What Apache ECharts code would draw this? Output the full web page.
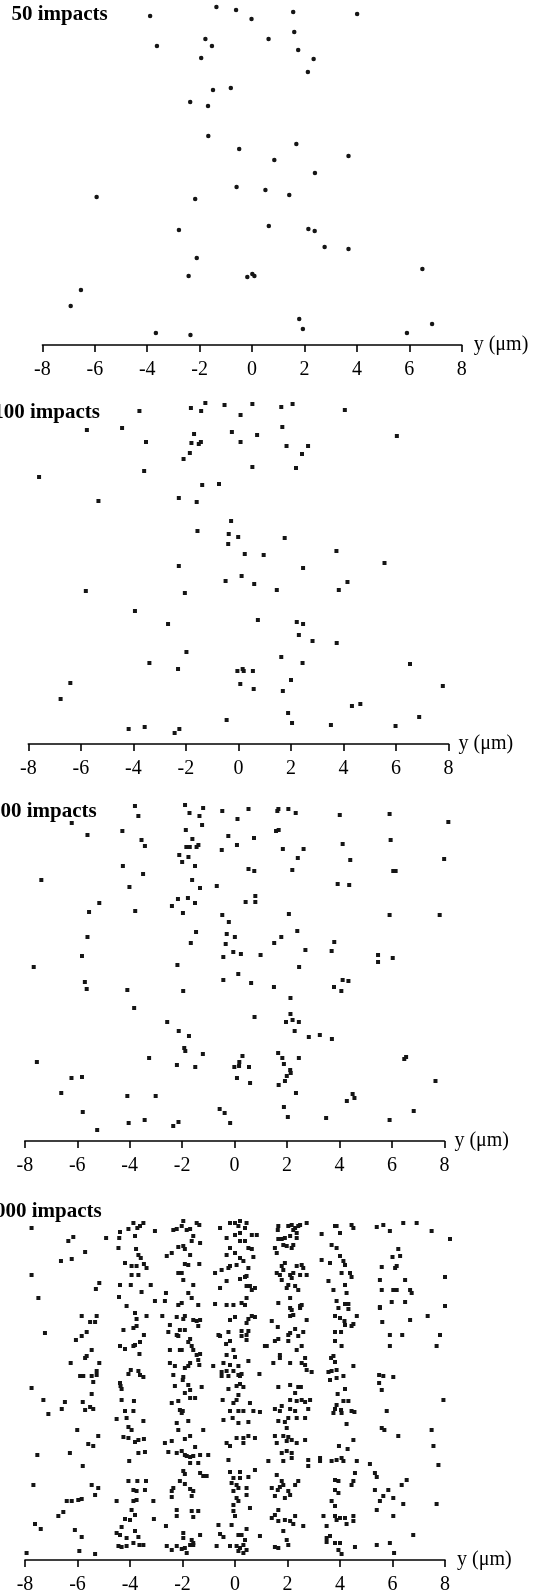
<!DOCTYPE html>
<html>
<head>
<meta charset="utf-8">
<script src="https://cdn.jsdelivr.net/npm/echarts@6/dist/echarts.min.js"></script>
<style>
  html, body { margin: 0; padding: 0; background: #fff; }
  #chart { width: 541px; height: 1596px; }
</style>
</head>
<body>
<div id="chart"></div>
<script>
// impact positions: [y in µm, height above the axis (arbitrary units)]
const axisTicks = [-8, -6, -4, -2, 0, 2, 4, 6, 8]
const axisName = 'y (μm)'
const panelTitles = ['50 impacts', '100 impacts', '200 impacts', '1000 impacts']

const impacts50 = [[-3.89,329],[-1.36,338],[-0.61,335],[-0.02,326],[1.57,333],[4.01,331],[1.61,313],[-3.63,299],[-1.78,306],[-1.53,299],[0.63,306],[1.76,295],[-1.94,287],[2.35,286],[2.13,273],[-1.49,255],[-0.81,257],[-2.36,243],[-1.68,239],[-1.67,209],[1.69,201],[-0.49,196],[0.85,185],[3.68,189],[2.40,172],[-5.93,148],[-2.17,146],[-0.59,158],[0.51,155],[1.42,150],[-2.79,115],[0.64,119],[2.15,116],[2.39,114],[2.77,98],[3.68,96],[-2.11,87],[-2.42,69],[-0.18,68],[0.01,71],[0.09,69],[6.50,76],[-6.53,55],[-6.92,39],[1.80,26],[1.94,16],[-3.67,12],[-2.35,10],[5.91,12],[6.87,21]]

const impacts100 = [[-1.26,341],[-1.81,336],[-1.42,333],[-0.53,339],[0.53,340],[0.08,329],[1.63,337],[2.06,340],[4.05,334],[-3.77,333],[-5.77,314],[-4.43,316],[-1.69,310],[-0.25,312],[0.71,309],[1.67,317],[6.03,308],[-3.52,302],[-1.79,301],[-1.51,300],[-1.43,302],[0.08,302],[1.83,298],[2.65,298],[-1.85,291],[-2.09,285],[2.42,290],[0.53,277],[2.19,276],[-7.59,267],[-3.59,273],[-1.38,259],[-0.74,260],[-5.33,243],[-2.27,246],[-1.59,242],[-0.28,223],[-1.56,213],[-0.37,210],[-0.01,207],[1.76,206],
  [-0.39,200],[0.24,190],[0.96,189],[3.73,193],[5.56,181],[-2.27,178],[2.46,176],[0.12,168],[-0.49,163],[0.60,160],[1.46,154],[3.82,154],[4.15,162],[-5.81,153],[-2.04,151],[-3.94,133],[-2.68,120],[0.74,124],[2.22,122],[2.46,120],[2.30,109],[2.82,103],[3.74,101],[-1.98,92],[-3.39,81],[-2.30,75],[1.63,87],[2.44,81],[6.53,80],[-0.04,73],[0.16,75],[0.20,73],[0.55,73],[-6.40,61],[-6.77,45],[0.07,60],[0.58,55],[2.00,64],[1.69,53],[7.78,58],[4.32,38],[4.64,40],[1.89,31],[2.04,21],[-0.45,24],[3.52,19],[5.98,18],[6.88,27],[-4.18,15],[-3.57,17],[-2.43,11],[-2.25,15]]

const impacts200 = [[-3.80,335],[-1.89,336],[-1.20,333],[-1.72,328],[-1.34,325],[-0.47,330],[0.53,332],[1.67,332],[1.63,330],[2.05,332],[2.33,328],[4.01,326],[5.91,327],[8.15,319],[-3.67,325],[-6.21,318],[0.11,322],[-1.24,316],[-5.61,306],[-4.28,310],[-1.86,311],[-0.24,305],[0.74,303],[1.58,310],[1.68,311],[5.95,301],[-1.61,302],[-3.55,301],[-3.42,295],[-1.84,294],[-1.71,294],[-1.45,294],[-1.38,296],[-0.49,291],[0.09,296],[1.84,292],[2.63,292],[4.12,297],[-2.11,286],[-1.76,284],[-2.00,279],[2.41,283],[4.41,281],[7.99,282],[-4.26,275],[-1.51,275],[-3.49,267],[0.53,272],[0.75,270],[2.20,271],[6.05,270],[6.14,270],[-7.37,261],[-4.01,254],[-1.62,261],[-1.32,253],[-0.68,255],[3.93,257],[4.37,256],[-5.16,238],[-2.16,242],[-1.78,243],[-1.51,238],[-2.39,235],[0.79,245],[0.42,239],[0.79,239],[-5.55,229],[-3.79,230],[-1.97,228],[-0.47,226],[2.07,227],[5.91,226],[7.82,226],[-0.22,219],[-5.61,204],[-1.47,209],[-0.30,207],[0.01,204],[1.78,204],[2.39,210],
  [-1.67,198],[-0.34,197],[1.51,198],[3.80,199],[-5.82,185],[-0.43,184],[-0.05,189],[0.24,187],[0.99,186],[2.70,191],[3.70,190],[5.47,186],[5.47,179],[6.03,183],[-7.66,174],[-2.18,176],[2.46,174],[0.14,167],[-0.43,161],[0.63,158],[-5.71,159],[-5.64,152],[-4.09,151],[-1.96,150],[1.50,154],[3.79,154],[4.07,150],[4.12,161],[4.34,160],[2.13,143],[-3.83,133],[0.76,124],[2.13,127],[1.96,119],[2.21,121],[2.45,119],[-2.57,119],[-2.13,110],[-1.74,105],[2.29,110],[2.83,104],[3.25,106],[3.71,102],[-1.92,93],[-1.88,90],[-1.21,87],[-3.26,83],[-7.54,79],[0.30,85],[1.66,88],[1.82,83],[2.45,83],[6.47,82],[6.54,84],[-2.20,76],[-1.50,74],[-0.01,74],[0.17,75],[0.18,79],[0.55,74],[1.88,77],[2.12,71],[2.14,68],[1.99,65],[-6.22,63],[-5.82,64],[0.09,63],[0.59,58],[1.68,56],[1.92,60],[7.66,60],[-6.61,48],[-4.09,45],[-3.01,45],[2.34,48],[4.28,40],[4.50,47],[4.57,43],[-5.79,29],[-0.57,32],[-0.38,28],[1.88,34],[2.03,24],[3.49,23],[6.83,30],[5.91,21],[-4.04,18],[-3.43,21],[-2.34,15],[-2.14,19],[-0.17,18],[-5.24,11]]

const impacts1000 = [[-7.75,332],[-6.35,319],[-6.16,323],[-5.71,308],[-6.63,299],[-6.22,301],[-7.75,285],[-7.49,262],[-4.91,322],[-5.17,277],[-5.30,271],[-4.38,328],[-4.41,322],[-4.06,331],[-3.87,337],[-3.72,332],[-3.62,334],[-3.49,337],[-3.81,324],[-3.05,329],[-4.44,312],[-3.77,311],[-3.68,305],[-3.59,302],[-4.19,297],[-3.94,294],[-3.75,294],[-3.47,296],[-3.37,292],[-3.68,285],[-3.94,285],[-4.38,275],[-3.97,275],[-3.21,275],[-3.56,268],[-4.42,263],[-4.13,254],[-3.05,259],[-2.67,259],[-2.63,267],[-2.35,330],[-2.22,331],[-2.03,334],[-1.97,339],[-1.84,330],[-1.71,331],[-1.46,337],[-1.36,335],[-1.59,324],[-1.65,319],[-1.97,314],[-2.16,313],[-1.91,311],[-1.33,317],[-2.60,304],[-2.41,307],[-1.71,305],[-1.91,296],[-1.78,295],[-1.36,296],[-2.16,287],[-2.03,287],[-1.97,280],[-1.59,275],[-1.78,267],[-1.65,262],[-2.16,255],[-2.03,257],[-1.40,255],[-0.57,332],[-0.19,337],[0.00,337],[0.19,339],[0.13,334],[0.38,332],[0.19,327],[0.00,325],[0.44,337],[0.64,325],[0.83,325],[-0.32,322],[-0.19,312],[0.19,319],[0.38,319],[0.51,312],[0.64,311],[0.70,303],[-0.32,305],[0.00,307],[0.19,302],[0.32,299],[0.06,295],[-0.19,294],[-0.25,292],[-0.51,290],[-0.76,287],[0.51,292],[0.44,284],[0.38,283],[0.19,281],[-0.32,279],[-0.57,272],[0.44,274],[0.57,274],[0.64,270],[0.76,272],[0.44,262],[0.25,257],[-0.76,256],[-0.32,255],[-0.06,255],[0.38,255],
  [1.65,334],[1.63,330],[2.03,334],[2.16,335],[2.29,332],[2.22,330],[2.41,334],[2.48,335],[2.73,337],[2.35,327],[2.10,324],[1.65,321],[1.78,321],[1.90,322],[2.35,322],[1.52,312],[1.59,307],[1.84,315],[1.97,314],[2.16,312],[2.22,315],[1.90,297],[1.78,294],[1.84,290],[2.35,294],[2.54,295],[2.60,292],[1.59,287],[1.71,285],[2.10,285],[2.22,287],[2.16,282],[2.48,285],[2.73,285],[1.78,280],[2.03,275],[2.29,274],[2.41,270],[1.97,272],[1.65,257],[2.10,262],[2.54,255],[2.48,254],[3.81,334],[3.87,334],[4.44,335],[4.51,332],[3.30,326],[4.00,327],[3.68,315],[3.87,312],[4.00,304],[3.30,300],[3.62,297],[4.13,299],[4.19,295],[4.06,287],[4.38,287],[4.44,283],[3.56,279],[4.19,275],[3.75,270],[4.25,267],[3.87,259],[4.19,256],[4.32,256],[5.40,333],[5.65,335],[5.90,329],[6.41,337],[6.92,337],[7.49,329],[8.19,321],[6.22,311],[6.00,303],[6.29,304],[5.59,293],[6.10,292],[6.16,294],[5.52,280],[6.48,280],[8.00,283],[5.59,270],[6.03,270],[6.16,270],[6.67,270],[6.73,267],[5.97,258],[6.48,258],[5.52,253],[8.00,254],
  [-5.84,244],[-5.27,244],[-5.52,238],[-5.33,238],[-7.24,227],[-5.84,224],[-5.65,228],[-6.06,220],[-5.46,210],[-5.65,204],[-5.71,202],[-6.26,197],[-5.17,197],[-5.90,184],[-5.78,184],[-5.46,184],[-5.27,189],[-5.27,185],[-5.40,178],[-7.75,172],[-5.46,166],[-7.30,160],[-7.11,146],[-6.48,158],[-6.60,151],[-5.80,158],[-5.52,153],[-5.40,151],[-5.71,150],[-6.01,130],[-5.21,124],[-5.59,116],[-5.40,114],
  [-3.81,247],[-3.37,244],[-3.75,241],[-3.87,232],[-3.75,234],[-4.25,230],[-3.47,225],[-3.62,218],[-3.81,215],[-3.87,214],[-4.38,214],[-4.19,211],[-3.64,206],[-3.97,190],[-4.06,186],[-3.68,189],[-3.62,185],[-3.49,183],[-4.38,177],[-4.36,174],[-4.32,171],[-4.32,160],[-3.85,159],[-4.19,149],[-3.87,149],[-4.51,141],[-4.13,142],[-3.49,139],[-4.06,133],[-3.94,130],[-4.25,123],[-4.06,122],[-3.81,118],[-3.68,120],[-3.47,121],
  [-2.77,244],[-2.22,243],[-1.91,244],[-1.97,241],[-1.59,240],[-1.46,239],[-1.33,240],[-1.40,234],[-2.48,235],[-2.10,230],[-1.91,230],[-2.22,225],[-2.16,224],[-2.54,228],[-1.71,221],[-1.78,218],[-2.10,210],[-2.48,210],[-1.65,214],[-1.59,210],[-1.46,205],[-1.33,206],[-1.40,200],[-2.03,210],[-2.48,197],[-2.29,194],[-1.91,192],[-1.71,197],[-1.78,194],[-1.36,195],[-2.35,185],[-1.97,183],[-1.99,180],[-1.78,175],[-1.71,170],[-2.29,174],[-1.91,167],[-1.27,173],[-1.71,162],[-1.52,162],[-2.41,157],[-2.16,159],[-2.10,150],[-2.03,147],[-1.99,149],[-1.78,139],[-2.22,137],[-2.16,130],[-1.21,130],[-1.91,121],[-1.71,124],[-2.67,117],[-2.41,119],[-1.52,113],
  [-0.19,240],[0.00,243],[0.51,241],[0.64,244],[0.76,243],[0.44,237],[0.25,229],[0.51,229],[0.25,224],[0.44,225],[-0.25,228],[-0.57,224],[-0.63,225],[-0.19,219],[0.44,220],[-0.34,216],[-0.06,210],[-0.32,205],[0.00,203],[-0.44,197],[-0.19,195],[0.13,194],[0.51,199],[-0.83,194],[-0.51,188],[-0.32,189],[-0.06,189],[0.13,185],[0.19,184],[0.25,186],[-0.51,184],[-0.25,184],[0.06,174],[0.32,173],[0.19,176],[-0.25,171],[0.13,165],[0.06,160],[-0.47,160],[-0.06,157],[0.57,157],[-0.19,149],[-0.09,142],[0.13,149],[0.32,149],[0.70,149],[0.95,148],[-0.44,140],[0.13,137],[0.51,138],[0.06,122],[0.32,122],[0.51,124],[0.76,122],[-0.32,117],[-0.19,114],[0.32,117],[1.14,214],[0.93,186],
  [2.10,252],[2.16,250],[2.48,252],[2.22,245],[2.10,244],[2.73,240],[1.40,239],[1.63,233],[2.29,231],[2.10,227],[2.03,225],[2.41,224],[2.60,228],[1.65,221],[1.52,219],[2.03,219],[1.21,214],[2.54,214],[2.35,210],[1.71,205],[1.71,202],[2.67,202],[1.46,197],[2.10,197],[2.54,197],[2.67,195],[2.73,190],[2.92,188],[1.65,173],[2.10,175],[2.41,173],[2.51,173],[2.29,167],[2.10,160],[2.35,159],[2.54,160],[2.67,158],[2.86,160],[1.52,151],[1.78,154],[1.71,149],[2.10,151],[2.29,149],[2.79,151],[2.03,142],[2.35,142],[2.67,142],[1.65,139],[1.90,138],[1.97,132],[1.52,124],[1.84,124],[2.03,123],[1.97,119],[2.16,120],[2.35,117],[2.67,120],[1.59,117],
  [3.94,252],[4.32,251],[4.64,244],[3.81,244],[4.00,242],[4.17,239],[4.19,235],[4.51,236],[4.44,234],[3.81,228],[4.04,228],[3.81,219],[4.06,214],[3.75,204],[3.66,202],[3.81,198],[3.56,188],[3.68,189],[3.87,190],[4.13,184],[4.51,194],[3.62,180],[3.87,182],[4.19,171],[3.91,166],[4.13,159],[4.32,159],[3.87,155],[3.81,151],[4.04,150],[3.75,147],[4.06,147],[4.44,149],[4.55,148],[4.25,136],[4.51,120],[3.96,114],[4.29,111],
  [5.52,252],[6.67,240],[7.34,244],[5.61,238],[5.90,225],[6.37,225],[7.81,225],[5.90,214],[7.68,214],[5.49,185],[5.65,184],[6.03,183],[5.49,177],[5.59,170],[7.94,160],[5.78,149],[5.59,132],[5.69,130],[6.22,124],[7.49,130],[7.56,114],
  [-7.53,105],[-6.29,107],[-5.80,94],[-7.68,75],[-5.46,75],[-5.21,72],[-5.33,65],[-6.41,59],[-6.22,59],[-5.97,60],[-5.84,61],[-6.73,44],[-6.54,48],[-7.62,36],[-7.40,31],[-6.10,30],[-5.84,23],[-5.93,9],[-5.33,6],[-7.94,7],
  [-4.03,99],[-3.68,107],[-3.43,108],[-4.06,79],[-3.72,79],[-3.39,79],[-3.87,70],[-3.75,69],[-3.43,70],[-4.51,59],[-3.87,59],[-3.75,60],[-3.11,59],[-3.94,50],[-3.81,45],[-4.19,41],[-4.00,40],[-3.09,41],[-4.32,33],[-4.51,27],[-4.38,25],[-3.81,29],[-3.68,23],[-4.13,22],[-4.44,14],[-4.32,13],[-4.13,14],[-3.87,17],[-3.49,15],[-3.64,15],
  [-2.54,108],[-2.22,107],[-2.03,109],[-1.91,105],[-1.84,104],[-1.71,103],[-1.59,104],[-1.33,105],[-1.02,105],[-1.71,97],[-1.40,97],[-1.97,89],[-1.91,86],[-1.33,87],[-1.21,84],[-1.08,84],[-2.35,72],[-2.41,69],[-2.10,79],[-1.91,76],[-1.71,71],[-1.59,69],[-1.65,64],[-2.41,63],[-2.22,50],[-2.22,44],[-1.65,49],[-1.59,43],[-1.40,49],[-2.63,34],[-1.97,27],[-1.97,22],[-1.65,20],[-1.59,17],[-1.33,25],[-2.60,14],[-2.41,10],[-2.22,14],[-2.03,11],[-1.91,12],[-1.84,7],[-1.71,15],[-1.59,15],
  [-0.25,100],[-0.19,88],[0.19,88],[0.51,83],[0.19,82],[-0.06,82],[-0.13,77],[0.06,75],[0.13,72],[0.44,72],[-0.06,69],[0.44,65],[0.06,62],[0.13,59],[-0.06,55],[0.57,52],[0.00,44],[-0.06,49],[-0.63,35],[-0.13,35],[0.44,31],[-0.57,26],[-0.44,23],[0.13,25],[0.25,25],[0.38,20],[0.95,24],[-0.19,14],[0.06,14],[0.19,12],[0.32,15],[0.13,9],[0.32,7],[0.44,10],[-0.70,14],[0.76,90],
  [1.27,99],[1.78,107],[1.97,109],[2.16,107],[1.84,99],[2.16,102],[2.79,100],[2.79,94],[3.24,102],[3.24,99],[3.68,99],[3.87,100],[4.06,102],[4.13,99],[4.64,99],[5.14,96],[7.75,95],[5.33,87],[5.40,83],[4.57,87],[4.44,75],[4.51,79],[1.59,85],[1.78,79],[1.84,75],[1.71,73],[2.41,79],[2.29,75],[1.40,72],[1.63,70],[2.03,69],[2.10,65],[1.90,62],[1.52,64],[3.81,80],[3.94,79],[3.81,70],[3.94,67],[3.68,59],[3.81,54],[5.33,70],[5.84,70],[5.65,64],[5.52,59],[6.03,62],[5.40,50],[6.41,56],[6.35,75],[6.54,80],[7.68,56],[1.65,50],[1.52,45],[1.40,42],[1.65,39],[1.90,40],[2.10,39],[2.29,44],[2.22,36],[2.60,34],[3.37,44],[3.49,34],[3.81,44],[4.00,42],[3.87,40],[4.25,36],[4.51,44],[4.51,39],[4.19,42],[6.03,44],[1.84,29],[1.97,20],[2.03,15],[1.52,13],[1.65,12],[3.49,22],[3.62,24],[3.49,18],[3.81,17],[4.00,17],[3.94,10],[4.06,6],[4.57,13],[5.40,15],[5.90,17],[6.06,7],[6.79,25]]

const serif = '"Liberation Serif", "Times New Roman", serif'

// layout of the four stacked panels (pixels)
const panels = [
  {data: impacts50, left: 42.4, width: 419.3, axisY: 345, height: 345, titleX: 11.4, titleY: 15, symbol: 'circle', size: 4.5, nameGap: 12},
  {data: impacts100, left: 28.3, width: 420.3, axisY: 744, height: 350, titleX: -6.8, titleY: 413, symbol: 'rect', size: 4, nameGap: 10},
  {data: impacts200, left: 24.8, width: 419.6, axisY: 1141, height: 350, titleX: -10, titleY: 812, symbol: 'rect', size: 4, nameGap: 10},
  {data: impacts1000, left: 25, width: 420, axisY: 1560, height: 350, titleX: -15.5, titleY: 1212, symbol: 'rect', size: 4, nameGap: 12}
]

const chart = echarts.init(document.getElementById('chart'))

const option = {
  animation: false,
  backgroundColor: '#fff',
  grid: panels.map(p => ({
    left: p.left, top: p.axisY - p.height, width: p.width, height: p.height, containLabel: false
  })),
  xAxis: panels.map((p, i) => ({
    gridIndex: i,
    type: 'value',
    min: axisTicks[0],
    max: axisTicks[axisTicks.length - 1],
    interval: 2,
    name: axisName,
    nameLocation: 'end',
    nameGap: p.nameGap,
    nameTextStyle: {color: '#000', fontFamily: serif, fontSize: 20, verticalAlign: 'middle', padding: [10, 0, 0, 0]},
    axisLine: {show: true, onZero: false, lineStyle: {color: '#000', width: 1.6}},
    axisTick: {show: true, inside: false, length: 7, lineStyle: {color: '#000', width: 1.6}},
    axisLabel: {color: '#000', fontFamily: serif, fontSize: 20, margin: 15, showMinLabel: true, showMaxLabel: true},
    splitLine: {show: false}
  })),
  yAxis: panels.map((p, i) => ({
    gridIndex: i, type: 'value', min: 0, max: p.height, show: false
  })),
  graphic: panels.map((p, i) => ({
    type: 'text',
    x: p.titleX,
    y: p.titleY,
    style: {text: panelTitles[i], font: 'bold 21px ' + serif, fill: '#000', verticalAlign: 'middle'}
  })),
  series: panels.map((p, i) => ({
    type: 'scatter',
    xAxisIndex: i,
    yAxisIndex: i,
    data: p.data,
    symbol: p.symbol,
    symbolSize: p.size,
    clip: false,
    silent: true,
    itemStyle: {color: '#151515', opacity: 1}
  }))
}

option && chart.setOption(option)
</script>
</body>
</html>
